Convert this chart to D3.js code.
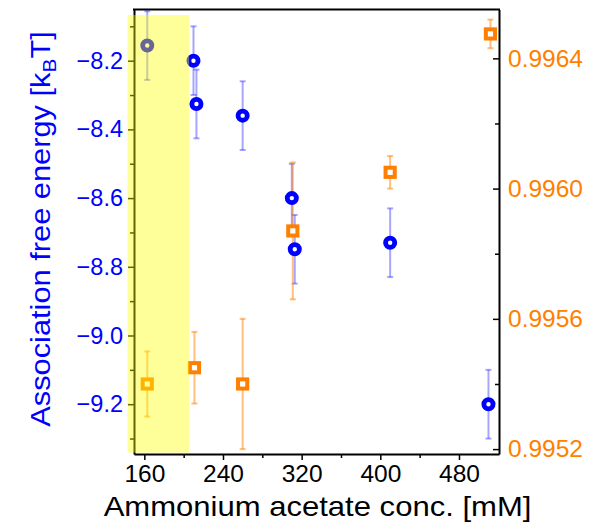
<!DOCTYPE html>
<html><head><meta charset="utf-8">
<script src="https://cdn.jsdelivr.net/npm/d3@7"></script>
<style>body{margin:0;background:#fff}svg{display:block}</style>
</head><body><svg id="c" width="597" height="530"></svg>
<script>
// Data
const energyConc = [163, 210, 213, 260, 310, 313, 410, 510];
const energyVal  = [-8.156, -8.2, -8.326, -8.36, -8.6, -8.749, -8.73, -9.2];
const energyErr  = [0.1, 0.1, 0.1, 0.1, 0.1, 0.1, 0.1, 0.1];
const rConc = [163, 211, 260, 311, 410, 512];
const rVal  = [0.99540, 0.99545, 0.99540, 0.99587, 0.99605, 0.996475];
const rErr  = [0.0001, 0.00011, 0.0002, 0.00021, 0.00005, 0.000044];
const xTicks = [160, 240, 320, 400, 480];
const xMinor = [200, 280, 360, 440];
const yLeftTicks = [-8.2, -8.4, -8.6, -8.8, -9.0, -9.2];
const yLeftMinor = [-8.1, -8.3, -8.5, -8.7, -8.9, -9.1, -9.3];
const yRightTicks = [0.9952, 0.9956, 0.9960, 0.9964];
const yRightMinor = [0.9954, 0.9958, 0.9962];
const highlightConc = [143, 205.5];
const highlightEnergy = [-9.341, -8.067];

const L = 134, R = 499, T = 9.5, B = 454;
const BLUE = "#0000ff", ORANGE = "#ff8000";
const FONT = "'Liberation Sans', Arial, sans-serif";

const svg = d3.select("#c");
const x = d3.scaleLinear().domain([149.5, 520.7]).range([L, R]);
const yL = d3.scaleLinear().domain([-9.345, -8.051]).range([B, T]);
const yR = d3.scaleLinear().domain([0.995185, 0.99655]).range([B, T]);

function styleAxis(g, color) {
  g.select(".domain").attr("stroke", "#000").attr("stroke-width", 2);
  g.selectAll(".tick line").attr("stroke", "#000").attr("stroke-width", 1.5);
  g.selectAll(".tick text").attr("fill", color).style("font-family", FONT);
}

// Minor ticks
svg.append("g").attr("transform", `translate(0,${B})`)
  .call(d3.axisBottom(x).tickValues(xMinor).tickFormat("").tickSize(4).tickSizeOuter(0))
  .call(g => { g.select(".domain").remove(); g.selectAll("line").attr("stroke","#000").attr("stroke-width",1.5); });
svg.append("g").attr("transform", `translate(${L},0)`)
  .call(d3.axisLeft(yL).tickValues(yLeftMinor).tickFormat("").tickSize(4).tickSizeOuter(0))
  .call(g => { g.select(".domain").remove(); g.selectAll("line").attr("stroke","#000").attr("stroke-width",1.5); });
svg.append("g").attr("transform", `translate(${R},0)`)
  .call(d3.axisRight(yR).tickValues(yRightMinor).tickFormat("").tickSize(-4).tickSizeOuter(0))
  .call(g => { g.select(".domain").remove(); g.selectAll("line").attr("stroke","#000").attr("stroke-width",1.5); });

// Major axes
svg.append("g").attr("transform", `translate(0,${B})`)
  .call(d3.axisBottom(x).tickValues(xTicks).tickFormat(d3.format("d")).tickSize(6).tickSizeOuter(0).tickPadding(5))
  .call(g => { styleAxis(g, "#000"); g.selectAll(".tick text").style("font-size", "24.5px"); });
svg.append("g").attr("transform", `translate(${L},0)`)
  .call(d3.axisLeft(yL).tickValues(yLeftTicks).tickFormat(d3.format(".1f")).tickSize(6).tickSizeOuter(0).tickPadding(5))
  .call(g => { styleAxis(g, BLUE); g.selectAll(".tick text").style("font-size", "23.5px"); });
svg.append("g").attr("transform", `translate(${R},0)`)
  .call(d3.axisRight(yR).tickValues(yRightTicks).tickFormat(d3.format(".4f")).tickSize(-6).tickSizeOuter(0).tickPadding(9))
  .call(g => { styleAxis(g, ORANGE); g.selectAll(".tick text").attr("x", 9).style("font-size", "24.5px"); });

// top frame
svg.append("line").attr("x1", L - 1).attr("x2", R + 1).attr("y1", T).attr("y2", T)
  .attr("stroke", "#000").attr("stroke-width", 2);

// Error bars
function errBars(conc, val, err, ys, color, op) {
  const g = svg.append("g").attr("stroke", color).attr("stroke-opacity", op).attr("stroke-width", 2);
  conc.forEach((c, i) => {
    const cx = x(c), y1 = ys(val[i] + err[i]), y2 = ys(val[i] - err[i]);
    g.append("line").attr("x1", cx).attr("x2", cx).attr("y1", y1).attr("y2", y2);
    g.append("line").attr("x1", cx - 3).attr("x2", cx + 3).attr("y1", y1).attr("y2", y1);
    g.append("line").attr("x1", cx - 3).attr("x2", cx + 3).attr("y1", y2).attr("y2", y2);
  });
}
errBars(energyConc, energyVal, energyErr, yL, BLUE, 0.35);
errBars(rConc, rVal, rErr, yR, ORANGE, 0.5);

// Markers
svg.append("g").selectAll("circle").data(energyConc).join("circle")
  .attr("cx", d => x(d)).attr("cy", (d, i) => yL(energyVal[i])).attr("r", 4.6)
  .attr("fill", "#fff").attr("stroke", BLUE).attr("stroke-width", 4.8);
svg.append("g").selectAll("rect").data(rConc).join("rect")
  .attr("x", d => x(d) - 4.6).attr("y", (d, i) => yR(rVal[i]) - 4.6)
  .attr("width", 9.2).attr("height", 9.2)
  .attr("fill", "#fff").attr("stroke", ORANGE).attr("stroke-width", 4);

// Highlight overlay
svg.append("rect")
  .attr("x", x(highlightConc[0])).attr("width", x(highlightConc[1]) - x(highlightConc[0]))
  .attr("y", yL(highlightEnergy[1])).attr("height", yL(highlightEnergy[0]) - yL(highlightEnergy[1]))
  .attr("fill", "#ffff00").attr("fill-opacity", 0.4);

// Axis titles
svg.append("text").attr("transform", `translate(${(L + R) / 2 + 1},516) scale(1.15,1)`).attr("text-anchor", "middle")
  .style("font-family", FONT).style("font-size", "27px").attr("fill", "#000")
  .text("Ammonium acetate conc. [mM]");
const yt = svg.append("text").attr("transform", `translate(50,229) rotate(-90) scale(1.1,1)`)
  .attr("text-anchor", "middle").style("font-family", FONT).style("font-size", "28px").attr("fill", BLUE);
yt.append("tspan").text("Association free energy [k");
yt.append("tspan").attr("dy", 6).style("font-size", "19px").text("B");
yt.append("tspan").attr("dy", -6).text("T]");
</script></body></html>
